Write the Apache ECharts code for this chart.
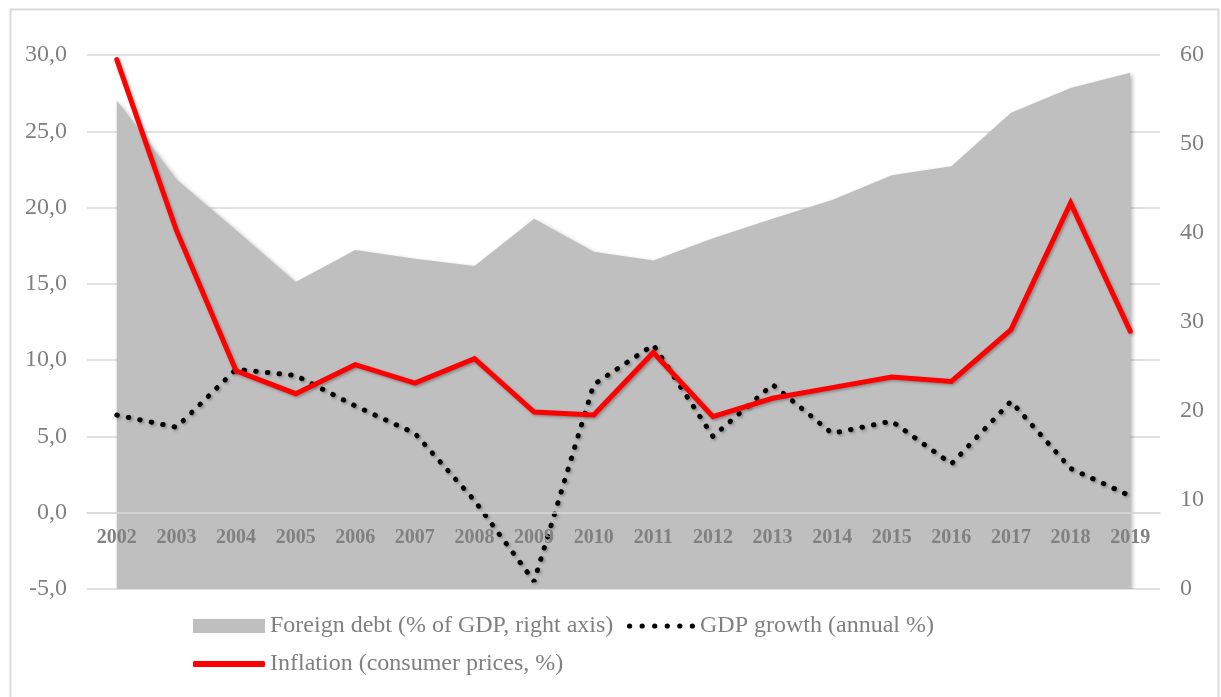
<!DOCTYPE html>
<html>
<head>
<meta charset="utf-8">
<script src="https://cdn.jsdelivr.net/npm/echarts@6/dist/echarts.min.js"></script>
<style>
html,body{margin:0;padding:0;background:#fff;}
#chart{width:1221px;height:697px;}
</style>
</head>
<body>
<div id="chart"></div>
<script>
const years = ['2002','2003','2004','2005','2006','2007','2008','2009','2010','2011','2012','2013','2014','2015','2016','2017','2018','2019'];
const foreignDebt = [54.9, 46.0, 40.3, 34.5, 38.1, 37.1, 36.3, 41.6, 37.9, 36.9, 39.4, 41.6, 43.7, 46.5, 47.5, 53.5, 56.3, 58.0];
const gdpGrowth = [6.4, 5.6, 9.4, 9.0, 7.0, 5.2, 0.8, -4.5, 8.4, 11.0, 5.0, 8.4, 5.2, 6.0, 3.2, 7.3, 2.9, 1.1];
const inflation = [29.7, 18.5, 9.3, 7.8, 9.7, 8.5, 10.1, 6.6, 6.4, 10.5, 6.3, 7.5, 8.2, 8.9, 8.6, 12.0, 20.3, 11.9];
const leftTicks = {min: -5, max: 30, interval: 5};
const rightTicks = {min: 0, max: 60, interval: 10};
const names = ['Foreign debt (% of GDP, right axis)', 'GDP growth (annual %)', 'Inflation (consumer prices, %)'];

const serif = '"Liberation Serif", "DejaVu Serif", serif';
const grey = '#808080';
const gridTop = 55, gridBottom = 108, chartH = 697;
const plotH = chartH - gridTop - gridBottom;
// distance from bottom of grid up to the zero line of the left axis
const zeroOffset = plotH * (0 - leftTicks.min) / (leftTicks.max - leftTicks.min);

// dotted legend icon: six round dots
let dots = '';
for (let i = 0; i < 6; i++) {
  const cx = 2.5 + i * 12;
  dots += 'M' + (cx - 2.5) + ',2.5 a2.5,2.5 0 1,0 5,0 a2.5,2.5 0 1,0 -5,0 ';
}

const chart = echarts.init(document.getElementById('chart'));
chart.setOption({
  animation: false,
  backgroundColor: '#ffffff',
  graphic: [{
    type: 'rect', left: 8, top: 7, z: -10,
    shape: {width: 1208, height: 700},
    style: {fill: 'none', stroke: '#d9d9d9', lineWidth: 2}
  }],
  grid: {left: 87, right: 61, top: gridTop, bottom: gridBottom},
  legend: [{
    left: 193, top: 614, padding: 0, itemGap: 10, itemWidth: 72, itemHeight: 14,
    textStyle: {fontFamily: serif, fontSize: 24, color: grey},
    data: [
      {name: names[0], icon: 'rect', itemStyle: {color: '#bfbfbf'}}
    ]
  }, {
    left: 627, top: 614, padding: 0, itemGap: 10, itemWidth: 68, itemHeight: 14,
    textStyle: {fontFamily: serif, fontSize: 24, color: grey},
    data: [
      {name: names[1], icon: 'path://' + dots, itemStyle: {color: '#000000'}}
    ]
  }, {
    left: 193, top: 652, padding: 0, itemGap: 10, itemWidth: 72, itemHeight: 6,
    textStyle: {fontFamily: serif, fontSize: 24, color: grey},
    data: [{name: names[2], icon: 'roundRect', itemStyle: {color: '#ff0000'}}]
  }],
  xAxis: {
    type: 'category', data: years, boundaryGap: true, z: 10,
    offset: -zeroOffset,
    axisLine: {show: true, onZero: false, lineStyle: {color: '#d9d9d9', width: 1.5}},
    axisTick: {show: false},
    axisLabel: {fontFamily: serif, fontSize: 20, fontWeight: 'bold', color: grey, margin: 15}
  },
  yAxis: [{
    type: 'value', min: leftTicks.min, max: leftTicks.max, interval: leftTicks.interval,
    axisLine: {show: false}, axisTick: {show: false},
    splitLine: {lineStyle: {color: '#d9d9d9', width: 1.5}},
    axisLabel: {fontFamily: serif, fontSize: 24, color: grey, margin: 20,
      formatter: v => v.toFixed(1).replace('.', ',')}
  }, {
    type: 'value', min: rightTicks.min, max: rightTicks.max, interval: rightTicks.interval,
    axisLine: {show: false}, axisTick: {show: false},
    splitLine: {show: false},
    axisLabel: {fontFamily: serif, fontSize: 24, color: grey, margin: 20}
  }],
  series: [{
    name: names[0], type: 'line', yAxisIndex: 1, data: foreignDebt,
    symbol: 'none', lineStyle: {width: 0},
    itemStyle: {color: '#bfbfbf'},
    areaStyle: {color: '#bfbfbf', opacity: 1, shadowBlur: 4, shadowColor: 'rgba(0,0,0,0.3)', shadowOffsetX: 2, shadowOffsetY: 2},
    z: 1
  }, {
    name: names[1], type: 'line', yAxisIndex: 0, data: gdpGrowth,
    symbol: 'none', itemStyle: {color: '#000000'},
    lineStyle: {color: '#000000', width: 5, type: [0.5, 11.2], cap: 'round',
      shadowBlur: 3, shadowColor: 'rgba(0,0,0,0.3)', shadowOffsetX: 1.5, shadowOffsetY: 1.5},
    z: 3
  }, {
    name: names[2], type: 'line', yAxisIndex: 0, data: inflation,
    symbol: 'none', itemStyle: {color: '#ff0000'},
    lineStyle: {color: '#ff0000', width: 5, cap: 'round', join: 'miter',
      shadowBlur: 3, shadowColor: 'rgba(0,0,0,0.3)', shadowOffsetX: 1.5, shadowOffsetY: 1.5},
    z: 4
  }]
});
</script>
</body>
</html>
